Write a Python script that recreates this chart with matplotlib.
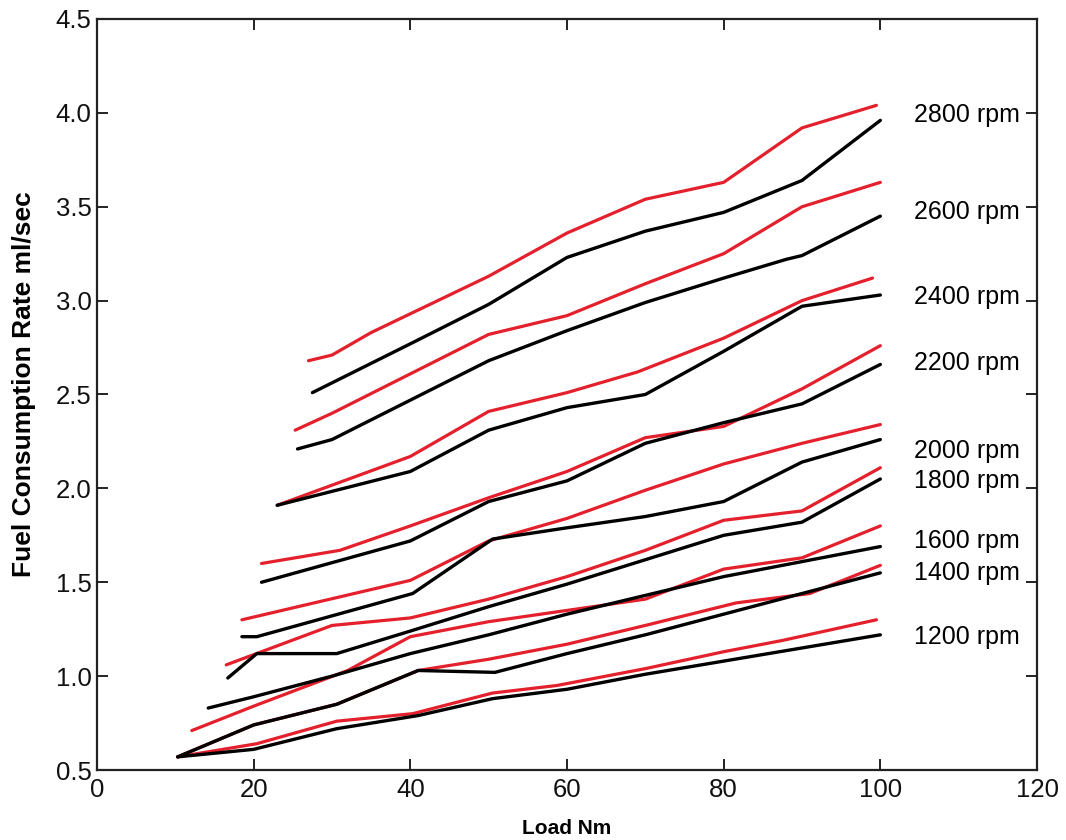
import matplotlib
matplotlib.use("Agg")
import matplotlib.pyplot as plt
import numpy as np

plt.rcParams['font.family'] = ['Liberation Sans', 'DejaVu Sans']

# ---- data (Load Nm, Fuel Consumption Rate ml/sec) ----
rpm_labels = ["2800 rpm", "2600 rpm", "2400 rpm", "2200 rpm", "2000 rpm",
              "1800 rpm", "1600 rpm", "1400 rpm", "1200 rpm"]

red_1200_x = [10.3, 20.4, 30.6, 40.3, 50.5, 58.7, 70, 80, 87.5, 99.5]
red_1200_y = [0.57, 0.64, 0.76, 0.80, 0.91, 0.95, 1.04, 1.13, 1.19, 1.30]
black_1200_x = [10.3, 20, 30.6, 41, 50.5, 60, 70, 80, 90, 100]
black_1200_y = [0.57, 0.61, 0.72, 0.79, 0.88, 0.93, 1.01, 1.08, 1.15, 1.22]

red_1400_x = [10.3, 20, 30.6, 41, 50, 60, 70, 81.6, 91, 100]
red_1400_y = [0.57, 0.74, 0.85, 1.03, 1.09, 1.17, 1.27, 1.39, 1.44, 1.59]
black_1400_x = [10.3, 20, 30.6, 41, 50.8, 60, 70, 80, 90, 100]
black_1400_y = [0.57, 0.74, 0.85, 1.03, 1.02, 1.12, 1.22, 1.33, 1.44, 1.55]

red_1600_x = [12.1, 20, 32, 40, 50, 60, 70, 80, 90, 100]
red_1600_y = [0.71, 0.84, 1.03, 1.21, 1.29, 1.35, 1.41, 1.57, 1.63, 1.80]
black_1600_x = [14.2, 20, 30, 40, 50, 60, 70, 80, 90, 100]
black_1600_y = [0.83, 0.89, 1.00, 1.12, 1.22, 1.33, 1.43, 1.53, 1.61, 1.69]

red_1800_x = [16.5, 30, 40, 50, 60, 70, 80, 90, 100]
red_1800_y = [1.06, 1.27, 1.31, 1.41, 1.53, 1.67, 1.83, 1.88, 2.11]
black_1800_x = [16.7, 20.4, 30.6, 40, 50, 60, 70, 80, 90, 100]
black_1800_y = [0.99, 1.12, 1.12, 1.24, 1.37, 1.49, 1.62, 1.75, 1.82, 2.05]

red_2000_x = [18.5, 40, 50, 60, 70, 80, 90, 100]
red_2000_y = [1.30, 1.51, 1.72, 1.84, 1.99, 2.13, 2.24, 2.34]
black_2000_x = [18.5, 20.4, 40.3, 50.5, 60, 70, 80, 90, 100]
black_2000_y = [1.21, 1.21, 1.44, 1.73, 1.79, 1.85, 1.93, 2.14, 2.26]

red_2200_x = [21, 31, 40, 50, 60, 70, 80, 90, 100]
red_2200_y = [1.60, 1.67, 1.80, 1.95, 2.09, 2.27, 2.33, 2.53, 2.76]
black_2200_x = [21, 40, 50, 60, 70, 80, 90, 100]
black_2200_y = [1.50, 1.72, 1.93, 2.04, 2.24, 2.35, 2.45, 2.66]

red_2400_x = [23, 40, 50, 60, 69, 80, 90, 99]
red_2400_y = [1.91, 2.17, 2.41, 2.51, 2.62, 2.80, 3.00, 3.12]
black_2400_x = [23, 40, 50, 60, 70, 80, 90, 100]
black_2400_y = [1.91, 2.09, 2.31, 2.43, 2.50, 2.73, 2.97, 3.03]

red_2600_x = [25.3, 30, 40, 50, 60, 70, 80, 90, 100]
red_2600_y = [2.31, 2.40, 2.61, 2.82, 2.92, 3.09, 3.25, 3.50, 3.63]
black_2600_x = [25.6, 30, 40, 50, 60, 70, 80, 88, 90, 100]
black_2600_y = [2.21, 2.26, 2.47, 2.68, 2.84, 2.99, 3.12, 3.22, 3.24, 3.45]

red_2800_x = [27, 30, 35, 40, 50, 60, 70, 80, 90, 99.5]
red_2800_y = [2.68, 2.71, 2.83, 2.93, 3.13, 3.36, 3.54, 3.63, 3.92, 4.04]
black_2800_x = [27.5, 40, 50, 60, 70, 80, 90, 100]
black_2800_y = [2.51, 2.77, 2.98, 3.23, 3.37, 3.47, 3.64, 3.96]

x_ticks = [0, 20, 40, 60, 80, 100, 120]
y_ticks = [0.5, 1.0, 1.5, 2.0, 2.5, 3.0, 3.5, 4.0, 4.5]

red_series = [(red_1200_x, red_1200_y), (red_1400_x, red_1400_y),
              (red_1600_x, red_1600_y), (red_1800_x, red_1800_y),
              (red_2000_x, red_2000_y), (red_2200_x, red_2200_y),
              (red_2400_x, red_2400_y), (red_2600_x, red_2600_y),
              (red_2800_x, red_2800_y)]
black_series = [(black_1200_x, black_1200_y), (black_1400_x, black_1400_y),
                (black_1600_x, black_1600_y), (black_1800_x, black_1800_y),
                (black_2000_x, black_2000_y), (black_2200_x, black_2200_y),
                (black_2400_x, black_2400_y), (black_2600_x, black_2600_y),
                (black_2800_x, black_2800_y)]

# ---- figure ----
W, H = 1066, 840
fig = plt.figure(figsize=(W / 100, H / 100), dpi=100)
ax = fig.add_axes([97 / W, 70 / H, 940 / W, 751 / H])

RED = '#e3202c'
for xs, ys in red_series:
    ax.plot(xs, ys, color=RED, lw=2.3, solid_capstyle='round', solid_joinstyle='round', zorder=2)
for xs, ys in black_series:
    ax.plot(xs, ys, color='black', lw=2.4, solid_capstyle='round', solid_joinstyle='round', zorder=3)

ax.set_xlim(0, 120)
ax.set_ylim(0.5, 4.5)
ax.set_xticks(x_ticks)
ax.set_xticklabels([str(v) for v in x_ticks])
ax.set_yticks(y_ticks)
ax.set_yticklabels([f"{v:.1f}" for v in y_ticks])
ax.tick_params(axis='both', direction='in', length=8, width=1.3,
               top=True, right=True, labelsize=18.5, colors='#111111')
ax.tick_params(axis='x', pad=6)
ax.tick_params(axis='y', pad=4)
for sp in ax.spines.values():
    sp.set_linewidth(1.6)
    sp.set_color('#222222')

# rpm labels at the right
label_y = [3.99, 3.47, 3.02, 2.67, 2.20, 2.04, 1.72, 1.55, 1.21]
for txt, yv in zip(rpm_labels, label_y):
    ax.text(104.3, yv, txt, ha='left', va='center', fontsize=18, color='black')

fig.text(567 / W, 1 - 828 / H, "Load Nm", ha='center', va='center',
         fontsize=15, fontweight='bold')
fig.text(24 / W, 1 - 384 / H, "Fuel Consumption Rate ml/sec", ha='center',
         va='center', rotation=90, fontsize=19, fontweight='bold')

fig.savefig("out.png", dpi=100, facecolor='white')
